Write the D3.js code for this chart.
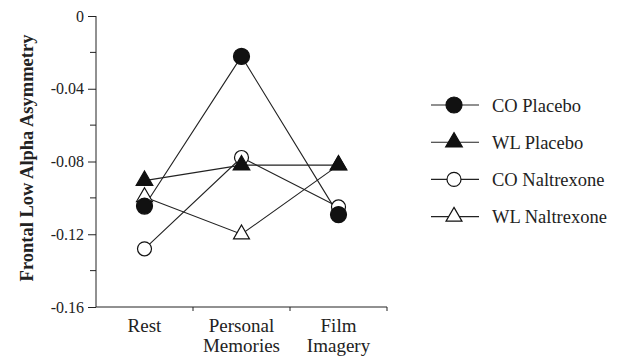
<!DOCTYPE html>
<html><head><meta charset="utf-8">
<script src="https://cdn.jsdelivr.net/npm/d3@7"></script>
<style>body{margin:0;background:#fff}svg{display:block}</style>
</head><body><div id="chart"></div>
<script>
const categories = [["Rest"], ["Personal", "Memories"], ["Film", "Imagery"]];
const catKeys = ["Rest", "Personal Memories", "Film Imagery"];
const seriesNames = ["CO Placebo", "WL Placebo", "CO Naltrexone", "WL Naltrexone"];
const coPlacebo = [-0.1045, -0.0222, -0.1092];
const wlPlacebo = [-0.0905, -0.0820, -0.0820];
const coNaltrexone = [-0.1280, -0.0778, -0.1050];
const wlNaltrexone = [-0.0995, -0.1200, -0.0820];
const yTicks = [0, -0.04, -0.08, -0.12, -0.16];
const yMinorTicks = [-0.02, -0.06, -0.10, -0.14];
const yTickLabels = ["0", "-0.04", "-0.08", "-0.12", "-0.16"];
const yTitle = "Frontal Low Alpha Asymmetry";

const FONT = "Liberation Serif";

const series = [
  {name: seriesNames[0], values: coPlacebo, shape: "circle", filled: true},
  {name: seriesNames[1], values: wlPlacebo, shape: "triangle", filled: true},
  {name: seriesNames[2], values: coNaltrexone, shape: "circle", filled: false},
  {name: seriesNames[3], values: wlNaltrexone, shape: "triangle", filled: false}
];

const W = 619, H = 358;
const svg = d3.select("#chart").append("svg").attr("width", W).attr("height", H)
  .attr("font-family", FONT);

const x = d3.scaleBand().domain(catKeys).range([96, 387]);
const y = d3.scaleLinear().domain([-0.16, 0]).range([307, 16]);

// y axis
const yAxis = d3.axisLeft(y).tickValues(yTicks).tickFormat((d, i) => yTickLabels[i]).tickSize(8).tickPadding(4);
const gy = svg.append("g").attr("transform", "translate(96,0)").call(yAxis).attr("font-family", FONT).attr("font-size", 16);
gy.select(".domain").attr("d", `M0,${y(0)}V${y(-0.16)}`);
gy.selectAll("text").attr("fill", "#222");
gy.selectAll("line,path").attr("stroke", "#222");
svg.append("g").selectAll("line").data(yMinorTicks).join("line")
  .attr("x1", 90).attr("x2", 96).attr("y1", d => y(d)).attr("y2", d => y(d)).attr("stroke", "#222");

// x axis
const gx = svg.append("g").attr("transform", "translate(0,307)");
gx.append("line").attr("x1", 96).attr("x2", 387).attr("stroke", "#222");
const bounds = catKeys.map(c => x(c) + x.bandwidth());
gx.selectAll(".xt").data(bounds).join("line").attr("class", "xt")
  .attr("x1", d => d).attr("x2", d => d).attr("y1", 0).attr("y2", 4).attr("stroke", "#222");
catKeys.forEach((c, i) => {
  const t = gx.append("text").attr("text-anchor", "middle").attr("font-size", 19).attr("fill", "#222")
    .attr("font-family", FONT).attr("x", x(c) + x.bandwidth() / 2).attr("y", 25);
  categories[i].forEach((ln, j) => t.append("tspan").attr("x", x(c) + x.bandwidth() / 2).attr("dy", j === 0 ? 0 : 20).text(ln));
});

// y title
svg.append("text").attr("transform", "translate(33,158) rotate(-90)").attr("text-anchor", "middle")
  .attr("font-family", FONT).attr("font-size", 18.5).attr("font-weight", "bold").attr("fill", "#222").text(yTitle);

const cx = c => x(c) + x.bandwidth() / 2;
const line = d3.line().x(d => cx(d.c)).y(d => y(d.v));

function drawMarker(g, s, px, py) {
  if (s.shape === "circle") {
    g.append("circle").attr("cx", px).attr("cy", py).attr("r", s.filled ? 8 : 7)
      .attr("fill", s.filled ? "#111" : "#fff").attr("stroke", "#111").attr("stroke-width", 1.2);
  } else {
    const sym = d3.symbol().type(d3.symbolTriangle).size(s.filled ? 120 : 110);
    g.append("path").attr("d", sym()).attr("transform", `translate(${px},${py})`)
      .attr("fill", s.filled ? "#111" : "#fff").attr("stroke", "#111").attr("stroke-width", 1.2);
  }
}

const plot = svg.append("g");
series.forEach(s => {
  plot.append("path").datum(s.values.map((v, i) => ({c: catKeys[i], v})))
    .attr("d", line).attr("fill", "none").attr("stroke", "#222").attr("stroke-width", 1.1);
});
series.slice().reverse().forEach(s => {
  s.values.forEach((v, i) => drawMarker(plot, s, cx(catKeys[i]), y(v)));
});

// legend
const leg = svg.append("g");
series.forEach((s, i) => {
  const ly = 105 + i * 37.2;
  leg.append("line").attr("x1", 431).attr("x2", 479).attr("y1", ly).attr("y2", ly).attr("stroke", "#222").attr("stroke-width", 1.1);
  drawMarker(leg, s, 454, ly);
  leg.append("text").attr("x", 492).attr("y", ly + 6.5).attr("font-family", FONT).attr("font-size", 18.5).attr("fill", "#222").text(s.name);
});
</script></body></html>
